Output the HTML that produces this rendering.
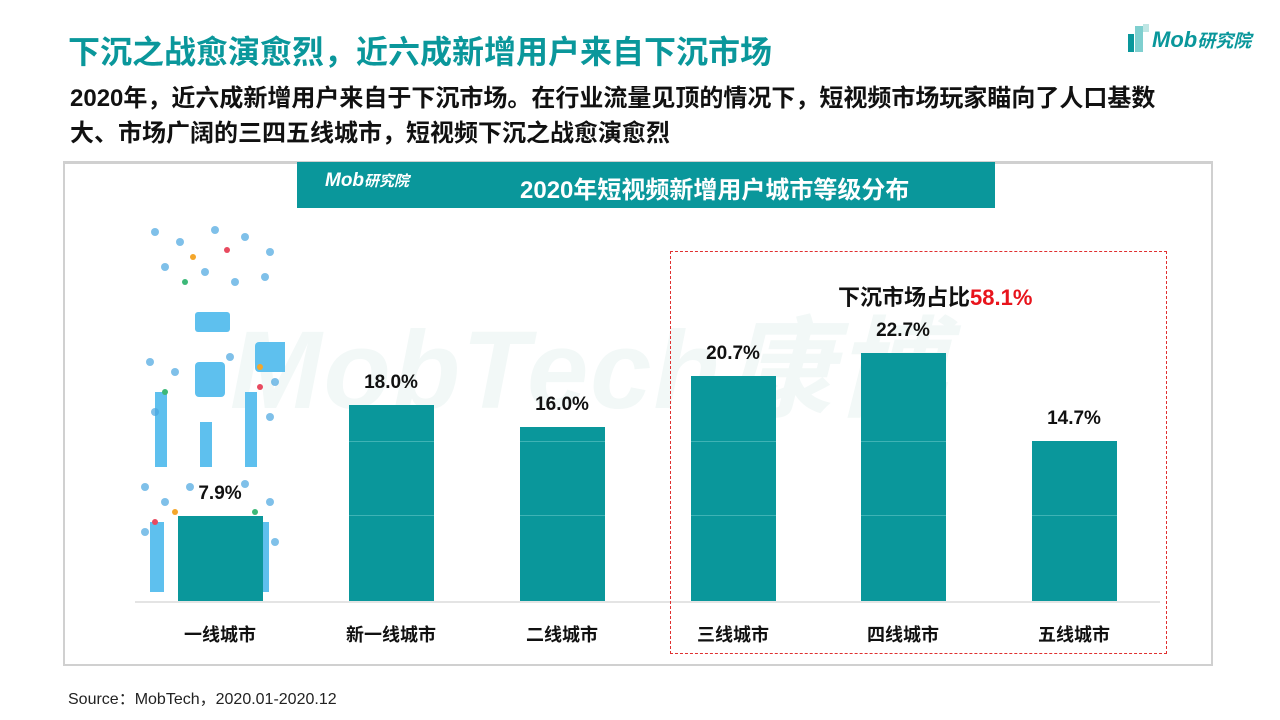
<!DOCTYPE html>
<html><head><meta charset="utf-8"><style>
body{margin:0;width:1280px;height:720px;background:#fff;position:relative;overflow:hidden;font-family:"Liberation Sans","Noto Sans CJK SC",sans-serif}
.a{position:absolute}
.bar{position:absolute;background:#0a979b;width:85px}
.bar i{position:absolute;left:0;right:0;height:1px;background:#3fb3b5}
.v{position:absolute;width:120px;text-align:center;font-size:19px;font-weight:bold;color:#111}
.x{position:absolute;width:140px;text-align:center;font-size:18px;font-weight:bold;color:#111;top:621px}
</style></head><body>
<div class="a" style="left:68px;top:27px;font-size:32px;font-weight:bold;color:#0a979b">下沉之战愈演愈烈，近六成新增用户来自下沉市场</div>
<div class="a" style="left:1128px;top:24px;width:22px;height:28px">
<div class="a" style="left:0;top:10px;width:6px;height:18px;background:#0a979b"></div>
<div class="a" style="left:7px;top:2px;width:8px;height:26px;background:#7fcfcf"></div>
<div class="a" style="left:15px;top:0px;width:6px;height:8px;background:#bfe6e4"></div></div>
<div class="a" style="left:1152px;top:27px;font-size:22px;font-weight:bold;font-style:italic;color:#0a979b">Mob<span style="font-size:18px">研究院</span></div>
<div class="a" style="left:70px;top:81px;font-size:24px;font-weight:bold;color:#111;line-height:35px;width:1180px">2020年，近六成新增用户来自于下沉市场。在行业流量见顶的情况下，短视频市场玩家瞄向了人口基数<br>大、市场广阔的三四五线城市，短视频下沉之战愈演愈烈</div>
<div class="a" style="left:63px;top:161px;width:1146px;height:500px;border:2px solid #d0d0d0;border-top-width:3px"></div>
<div class="a" style="left:297px;top:162px;width:698px;height:46px;background:#0a979b"></div>
<div class="a" style="left:325px;top:170px;font-size:19px;font-weight:bold;font-style:italic;color:#fff">Mob<span style="font-size:15px">研究院</span></div>
<div class="a" style="left:520px;top:170px;font-size:24px;font-weight:bold;color:#fff">2020年短视频新增用户城市等级分布</div>
<div class="a" style="left:230px;top:280px;font-size:110px;font-weight:bold;font-style:italic;color:#f2f8f7;letter-spacing:2px">MobTech康博</div>
<svg class="a" style="left:135px;top:222px" width="150" height="375">
<g fill="#5ec0ee"><rect x="60" y="90" width="35" height="20" rx="3"/><rect x="15" y="300" width="14" height="70"/><rect x="120" y="300" width="14" height="70"/><rect x="20" y="170" width="12" height="75"/><rect x="65" y="200" width="12" height="45"/><rect x="110" y="170" width="12" height="75"/><rect x="60" y="140" width="30" height="35" rx="4"/><rect x="120" y="120" width="35" height="30" rx="4"/></g>
<g fill="#4aa6e0" opacity=".7">
<circle cx="20" cy="10" r="4"/><circle cx="45" cy="20" r="4"/><circle cx="80" cy="8" r="4"/><circle cx="110" cy="15" r="4"/><circle cx="135" cy="30" r="4"/><circle cx="30" cy="45" r="4"/><circle cx="70" cy="50" r="4"/><circle cx="100" cy="60" r="4"/><circle cx="130" cy="55" r="4"/>
<circle cx="15" cy="140" r="4"/><circle cx="40" cy="150" r="4"/><circle cx="95" cy="135" r="4"/><circle cx="140" cy="160" r="4"/><circle cx="20" cy="190" r="4"/><circle cx="135" cy="195" r="4"/>
<circle cx="10" cy="265" r="4"/><circle cx="30" cy="280" r="4"/><circle cx="55" cy="265" r="4"/><circle cx="110" cy="262" r="4"/><circle cx="135" cy="280" r="4"/><circle cx="10" cy="310" r="4"/><circle cx="140" cy="320" r="4"/></g>
<g fill="#f4a62a"><circle cx="58" cy="35" r="3"/><circle cx="125" cy="145" r="3"/><circle cx="40" cy="290" r="3"/></g>
<g fill="#e84a5f"><circle cx="92" cy="28" r="3"/><circle cx="125" cy="165" r="3"/><circle cx="20" cy="300" r="3"/></g>
<g fill="#3cb878"><circle cx="50" cy="60" r="3"/><circle cx="30" cy="170" r="3"/><circle cx="120" cy="290" r="3"/></g>
</svg>
<div class="a" style="left:135px;top:601px;width:1025px;height:2px;background:#e4e4e4"></div>
<div class="bar" style="left:178px;top:516px;height:85px"></div>
<div class="bar" style="left:349px;top:405px;height:196px"><i style="top:36px"></i><i style="top:110px"></i></div>
<div class="bar" style="left:520px;top:427px;height:174px"><i style="top:14px"></i><i style="top:88px"></i></div>
<div class="bar" style="left:691px;top:376px;height:225px"><i style="top:65px"></i><i style="top:139px"></i></div>
<div class="bar" style="left:861px;top:353px;height:248px"><i style="top:88px"></i><i style="top:162px"></i></div>
<div class="bar" style="left:1032px;top:441px;height:160px"><i style="top:74px"></i></div>
<div class="v" style="left:160px;top:483px">7.9%</div>
<div class="v" style="left:331px;top:372px">18.0%</div>
<div class="v" style="left:502px;top:394px">16.0%</div>
<div class="v" style="left:673px;top:343px">20.7%</div>
<div class="v" style="left:843px;top:320px">22.7%</div>
<div class="v" style="left:1014px;top:408px">14.7%</div>
<div class="x" style="left:150px">一线城市</div>
<div class="x" style="left:321px">新一线城市</div>
<div class="x" style="left:492px">二线城市</div>
<div class="x" style="left:663px">三线城市</div>
<div class="x" style="left:833px">四线城市</div>
<div class="x" style="left:1004px">五线城市</div>
<div class="a" style="left:670px;top:251px;width:495px;height:401px;border:1px dashed #e03030"></div>
<div class="a" style="left:838px;top:280px;font-size:22px;font-weight:bold;color:#111">下沉市场占比<span style="color:#e8141c">58.1%</span></div>
<div class="a" style="left:68px;top:685px;font-size:16px;color:#222">Source：MobTech，2020.01-2020.12</div>
</body></html>
